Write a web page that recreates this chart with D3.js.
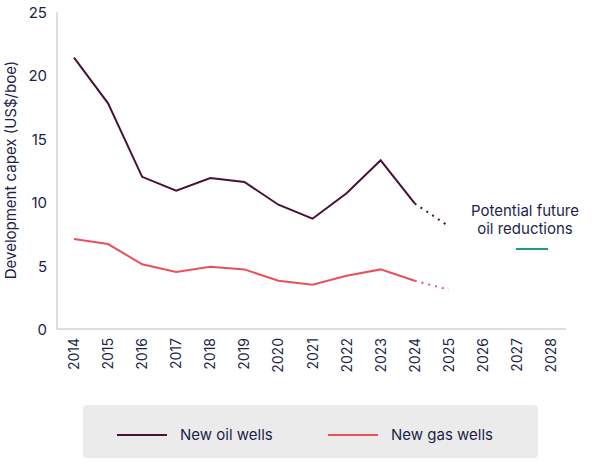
<!DOCTYPE html><html><head><script src="https://cdn.jsdelivr.net/npm/d3@7"></script>
<style>body{margin:0;background:#fff}</style></head><body><svg id="c" width="601" height="465"></svg>
<script>
const years=[2014,2015,2016,2017,2018,2019,2020,2021,2022,2023,2024,2025,2026,2027,2028];
const oil=[21.4,17.8,12.0,10.9,11.9,11.6,9.8,8.7,10.7,13.3,9.9];
const oilFuture=[9.9,8.1];
const gas=[7.1,6.7,5.1,4.5,4.9,4.7,3.8,3.5,4.2,4.7,3.8];
const gasFuture=[3.8,3.1];
const potential=[6.3,6.3];
const yTicks=[0,5,10,15,20,25];
const svg=d3.select("#c"),F="Inter, 'Noto Sans', sans-serif";
const x=d3.scalePoint().domain(years).range([74,551]);
const y=d3.scaleLinear().domain([0,25]).range([329,12]);
svg.append("line").attr("x1",57).attr("x2",57).attr("y1",12).attr("y2",329).attr("stroke","#bbb");
svg.append("line").attr("x1",57).attr("x2",566).attr("y1",329).attr("y2",329).attr("stroke","#bbb");
yTicks.forEach(t=>svg.append("text").attr("x",47).attr("y",y(t)+6).attr("text-anchor","end").attr("font-family",F).attr("font-size",15).attr("fill","#1b1f4a").text(t));
years.forEach(t=>svg.append("text").attr("transform",`translate(${x(t)+5},338) rotate(-90)`).attr("text-anchor","end").attr("font-family",F).attr("font-size",14).attr("fill","#1b1f4a").text(t));
svg.append("text").attr("transform","translate(16,170) rotate(-90)").attr("text-anchor","middle").attr("font-family",F).attr("font-size",15).attr("fill","#1b1f4a").text("Development capex (US$/boe)");
const line=d3.line().x(d=>x(d[0])).y(d=>y(d[1]));
function draw(arr,start,col,dash){svg.append("path").datum(arr.map((v,i)=>[years[start+i],v])).attr("d",line).attr("fill","none").attr("stroke",col).attr("stroke-width",2).attr("stroke-dasharray",dash||null);}
draw(oil,0,"#4a1038");draw(oilFuture,10,"#4a1038","2,5");
draw(gas,0,"#e8505b");draw(gasFuture,10,"#e8505b","2,5");
svg.append("line").attr("x1",x(2027)-1).attr("x2",x(2028)-3).attr("y1",y(potential[0])).attr("y2",y(potential[1])).attr("stroke","#1a9a8a").attr("stroke-width",2);
["Potential future","oil reductions"].forEach((s,i)=>svg.append("text").attr("x",525).attr("y",216+i*18).attr("text-anchor","middle").attr("font-family",F).attr("font-size",15).attr("fill","#1b1f4a").text(s));
svg.append("rect").attr("x",83).attr("y",405).attr("width",455).attr("height",53).attr("rx",4).attr("fill","#ebebeb");
[["New oil wells","#4a1038",117],["New gas wells","#e8505b",328]].forEach(([t,c,lx])=>{
svg.append("line").attr("x1",lx).attr("x2",lx+50).attr("y1",435).attr("y2",435).attr("stroke",c).attr("stroke-width",2);
svg.append("text").attr("x",lx+63).attr("y",440).attr("font-family",F).attr("font-size",15).attr("fill","#1b1f4a").text(t);});
</script></body></html>
